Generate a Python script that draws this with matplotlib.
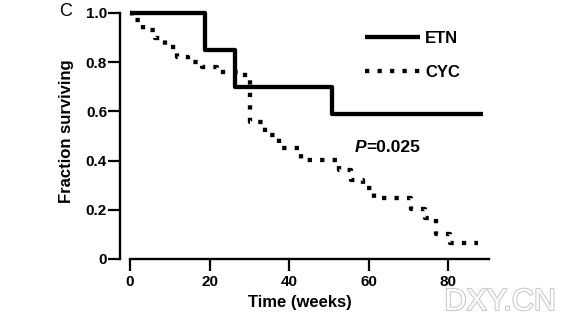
import matplotlib
matplotlib.use("Agg")
import matplotlib.pyplot as plt
import matplotlib.patheffects as pe

# Kaplan-Meier steps
etn_weeks = [0, 18.9, 26.4, 50.7, 88.8]
etn_surv = [1.0, 0.85, 0.70, 0.59, 0.59]

cyc_weeks = [0, 0.5, 3.3, 6.2, 8.7, 11.7, 14.5, 18, 22, 29, 30.3, 34, 37.5,
             43, 52.6, 55.6, 58.6, 61.4, 70.7, 74.2, 77, 80.5, 87.5]
cyc_surv = [1.0, 0.97, 0.93, 0.90, 0.86, 0.82, 0.80, 0.78, 0.76, 0.735,
            0.557, 0.504, 0.451, 0.402, 0.362, 0.321, 0.289, 0.248, 0.203,
            0.167, 0.10, 0.065, 0.065]

x_ticks = [0, 20, 40, 60, 80]
y_ticks = [0, 0.2, 0.4, 0.6, 0.8, 1.0]
y_tick_labels = ["0", "0.2", "0.4", "0.6", "0.8", "1.0"]

plt.rcParams["font.family"] = ["Liberation Sans", "DejaVu Sans"]

fig = plt.figure(figsize=(5.88, 3.28), dpi=100)
ax = fig.add_axes([130 / 588, 69 / 328, 359 / 588, 246 / 328])

dots = (0, (1, 1.9))
ax.step(cyc_weeks, cyc_surv, where="post", color="black", lw=3.1,
        linestyle=dots, dash_capstyle="butt", clip_on=False, label="CYC")
ax.step(etn_weeks, etn_surv, where="post", color="black", lw=3.1,
        solid_capstyle="butt", clip_on=False, label="ETN")

ax.set_xlim(0, 90.3)
ax.set_ylim(0, 1.0)

# axis styling: offset y spine, no top/right
for side in ("top", "right"):
    ax.spines[side].set_visible(False)
ax.spines["left"].set_position(("outward", 7.2))
ax.spines["left"].set_bounds(0, 1.0)
ax.spines["left"].set_linewidth(1.7)
ax.spines["bottom"].set_linewidth(1.7)

ax.set_xticks(x_ticks)
ax.set_yticks(y_ticks)
ax.set_yticklabels(y_tick_labels)
ax.tick_params(axis="both", direction="out", length=8.8, width=1.6,
               labelsize=11)
ax.tick_params(axis="y", pad=0.5)
ax.tick_params(axis="x", pad=2.5)
for lbl in ax.get_xticklabels() + ax.get_yticklabels():
    lbl.set_fontweight("bold")

fig.text(66 / 588, 1 - 131 / 328, "Fraction surviving", rotation=90,
         ha="center", va="center", fontsize=12, fontweight="bold")
fig.text(300 / 588, 1 - 303 / 328, "Time (weeks)", ha="center", va="center",
         fontsize=12, fontweight="bold")
fig.text(66 / 588, 1 - 11 / 328, "C", ha="center", va="center", fontsize=13)

# legend, ETN on top
handles, labels = ax.get_legend_handles_labels()
leg = ax.legend(handles[::-1], labels[::-1], loc="upper left",
                bbox_to_anchor=(365 / 588, 1 - 31 / 328),
                bbox_transform=fig.transFigure, frameon=False,
                handlelength=3.3, handletextpad=0.3, labelspacing=1.13,
                borderpad=0, borderaxespad=0,
                prop={"weight": "bold", "size": 12})

# P value: italic P + bold rest
p_txt = ax.text(355 / 588, 1 - 147 / 328, "P", transform=fig.transFigure,
                ha="left", va="center", fontsize=12.5, fontstyle="italic",
                fontweight="bold")
ax.annotate("=0.025", xy=(1, 0), xycoords=p_txt, ha="left", va="bottom",
            fontsize=12.5, fontweight="bold")

# faint site watermark
fig.text(500 / 588, 1 - 302 / 328, "DXY.CN", ha="center", va="center",
         fontsize=22, color="white",
         path_effects=[pe.withStroke(linewidth=1.5, foreground="#c8c8c8")])

fig.savefig("out.png", dpi=100)
